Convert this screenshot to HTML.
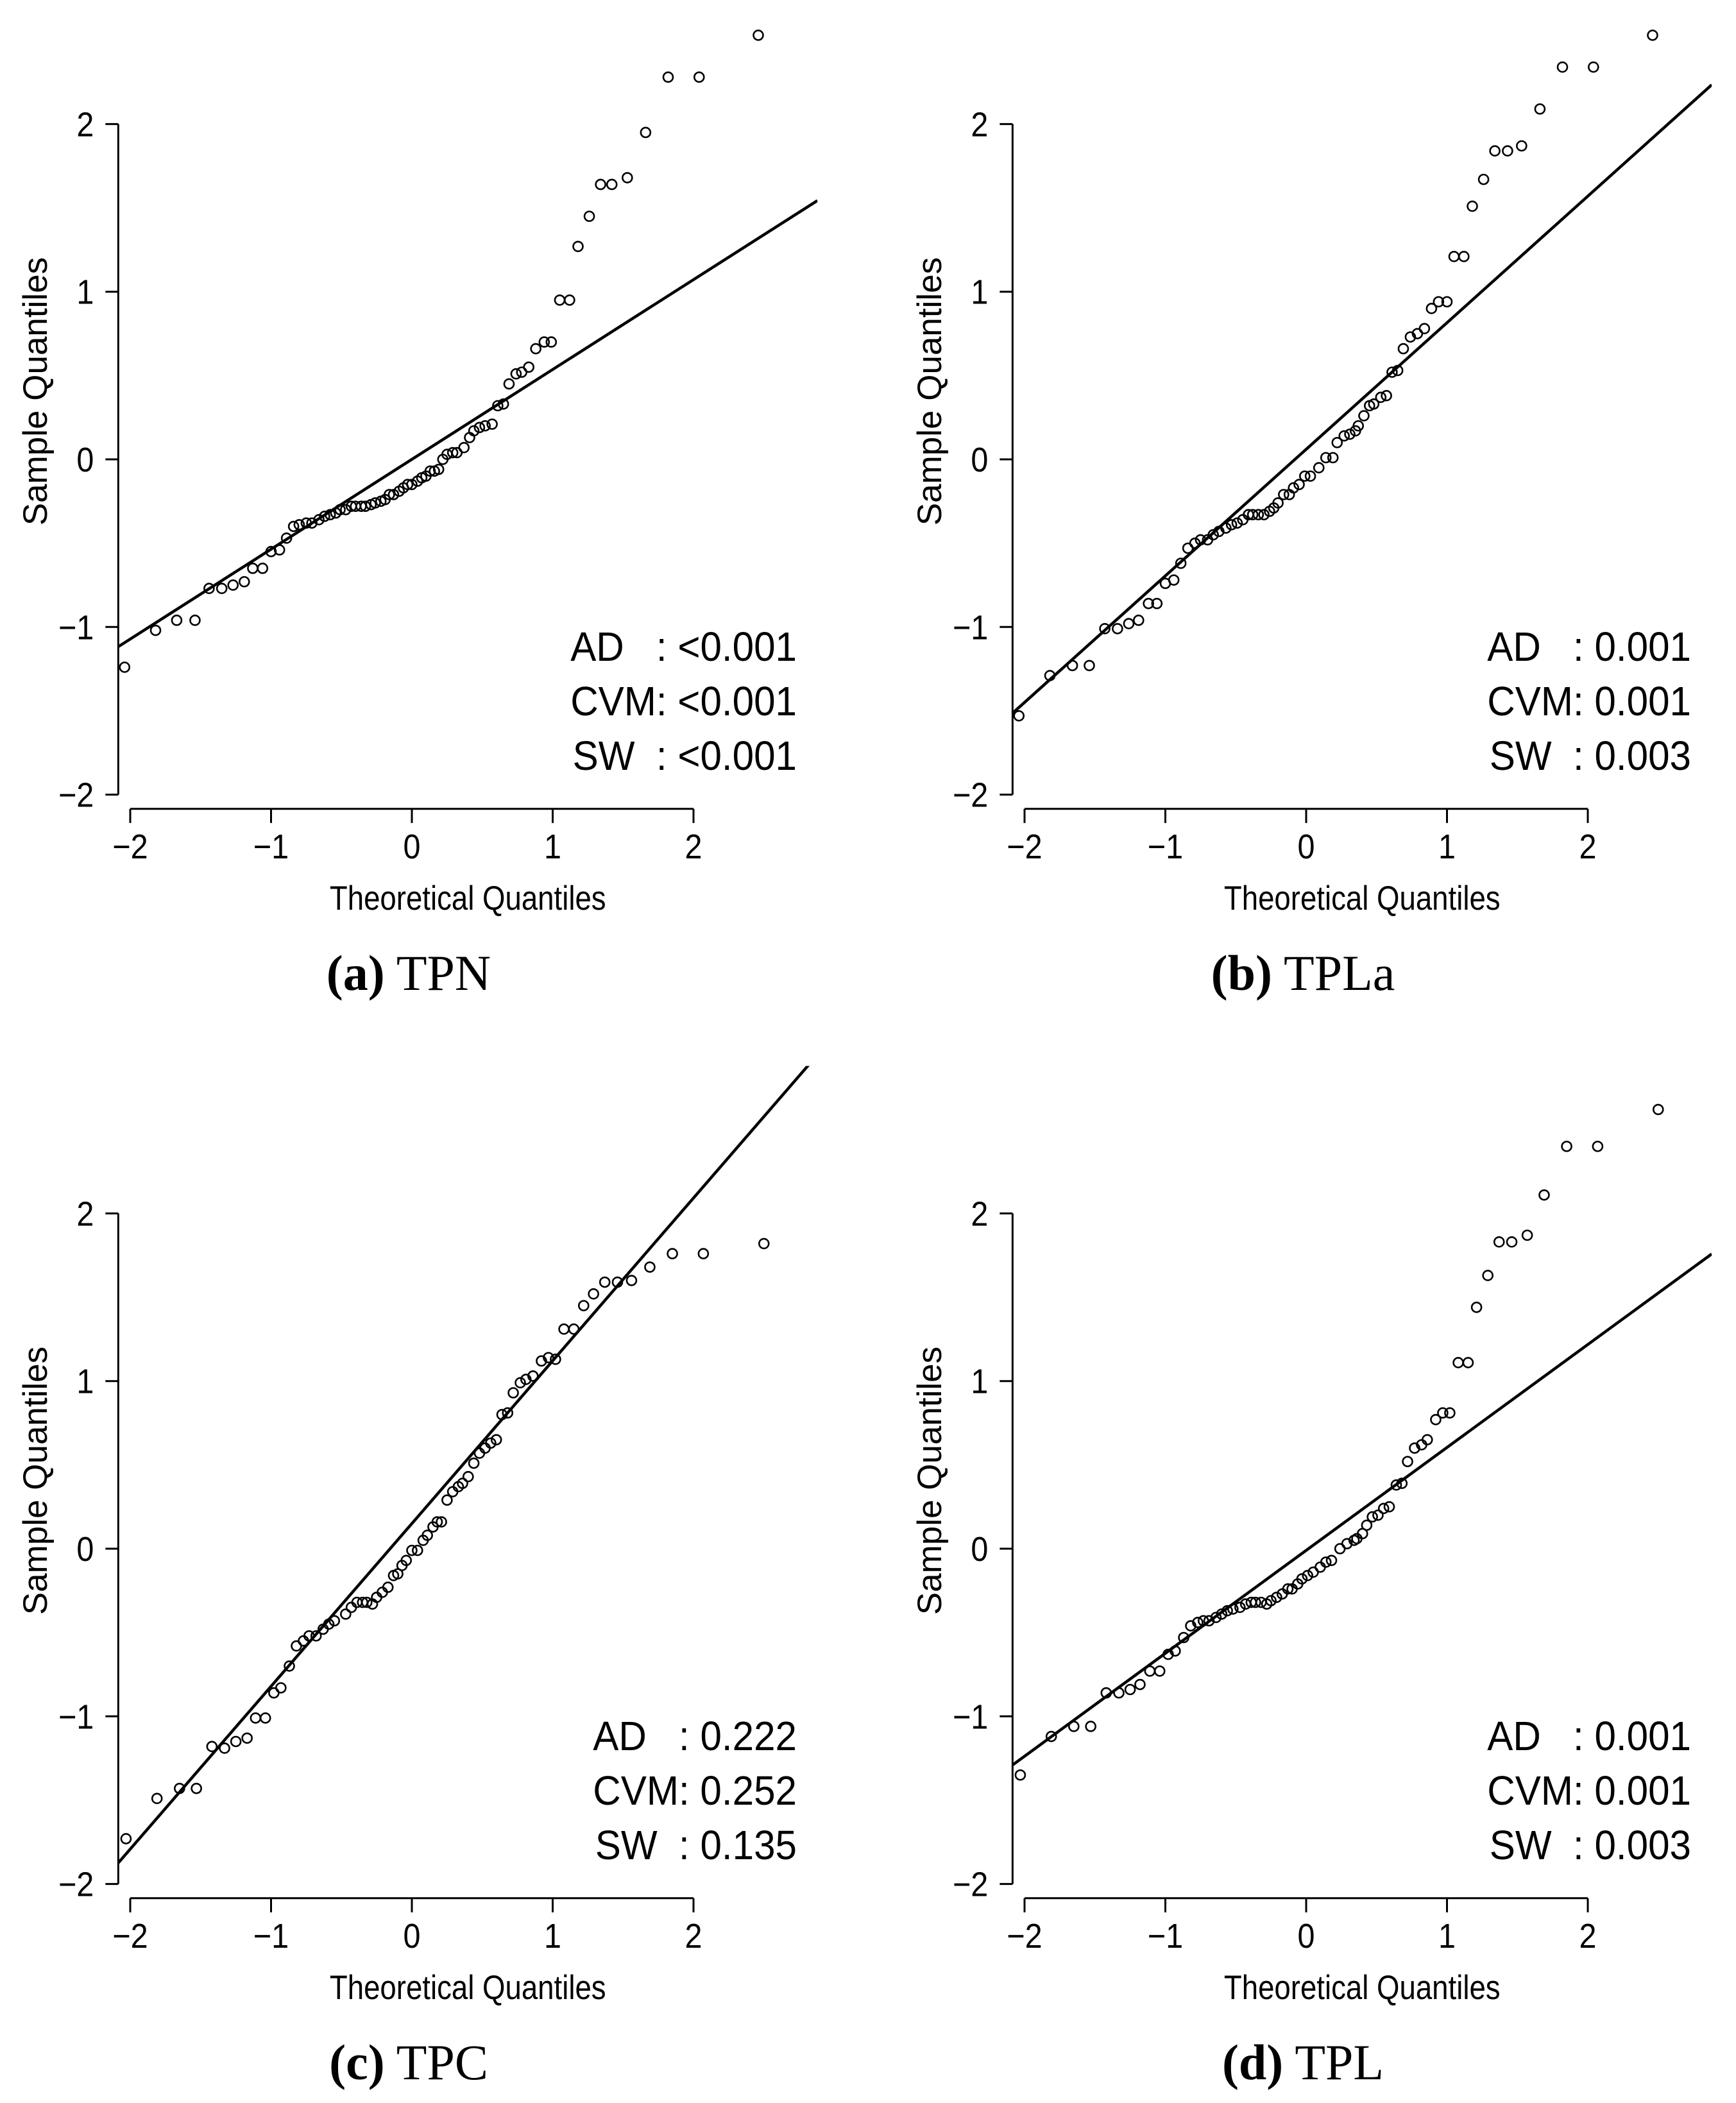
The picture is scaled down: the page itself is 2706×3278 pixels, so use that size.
<!DOCTYPE html>
<html><head><meta charset="utf-8"><title>QQ plots</title>
<style>
html,body{margin:0;padding:0;background:#fff;}
svg{display:block;}
text{font-family:"Liberation Sans",Arial,sans-serif;fill:#000;}
.cap{font-family:"Liberation Serif","DejaVu Serif",serif;}
</style></head>
<body>
<svg id="fig" width="2706" height="3278" viewBox="0 0 2706 3278" xmlns="http://www.w3.org/2000/svg"></svg>
<script>
// ---- data ----
const xTicks = [-2, -1, 0, 1, 2];
const yTicks = [-2, -1, 0, 1, 2];
const panelKeys = ["a", "b", "c", "d"];
const panelNames = ["TPN", "TPLa", "TPC", "TPL"];
const adValues = ["<0.001", "0.001", "0.222", "0.001"];
const cvmValues = ["<0.001", "0.001", "0.252", "0.001"];
const swValues = ["<0.001", "0.003", "0.135", "0.003"];
const lineSlope = [0.536, 0.755, 0.971, 0.614];
const lineIntercept = [0.0, 0.06, 0.15, -0.01];

const aX = [-2.04,-1.82,-1.67,-1.54,-1.44,-1.35,-1.27,-1.19,-1.13,-1.06,-1.00,-0.94,-0.89,-0.84,-0.80,-0.75,-0.71,-0.66,-0.62,-0.58,-0.54,-0.51,-0.47,-0.43,-0.40,-0.36,-0.33,-0.29,-0.26,-0.22,-0.19,-0.16,-0.13,-0.09,-0.06,-0.03,0.00,0.04,0.07,0.10,0.13,0.16,0.19,0.22,0.25,0.29,0.32,0.37,0.41,0.44,0.48,0.52,0.57,0.61,0.65,0.69,0.74,0.78,0.83,0.88,0.94,0.99,1.05,1.12,1.18,1.26,1.34,1.42,1.53,1.66,1.82,2.04,2.46];
const aY = [-1.24,-1.02,-0.96,-0.96,-0.77,-0.77,-0.75,-0.73,-0.65,-0.65,-0.55,-0.54,-0.47,-0.40,-0.39,-0.38,-0.38,-0.36,-0.34,-0.33,-0.32,-0.30,-0.30,-0.28,-0.28,-0.28,-0.28,-0.27,-0.26,-0.25,-0.24,-0.21,-0.21,-0.19,-0.17,-0.15,-0.15,-0.13,-0.11,-0.10,-0.07,-0.07,-0.06,0.00,0.03,0.04,0.04,0.07,0.13,0.17,0.19,0.20,0.21,0.32,0.33,0.45,0.51,0.52,0.55,0.66,0.70,0.70,0.95,0.95,1.27,1.45,1.64,1.64,1.68,1.95,2.28,2.28,2.53];
const bX = [-2.04,-1.82,-1.66,-1.54,-1.43,-1.34,-1.26,-1.19,-1.12,-1.06,-1.00,-0.94,-0.89,-0.84,-0.79,-0.75,-0.70,-0.66,-0.62,-0.57,-0.53,-0.49,-0.45,-0.41,-0.38,-0.34,-0.30,-0.26,-0.23,-0.20,-0.16,-0.12,-0.09,-0.05,-0.01,0.03,0.09,0.14,0.19,0.22,0.27,0.31,0.35,0.37,0.41,0.45,0.48,0.53,0.57,0.61,0.65,0.69,0.74,0.79,0.84,0.89,0.94,1.00,1.05,1.12,1.18,1.26,1.34,1.43,1.53,1.66,1.82,2.04,2.46];
const bY = [-1.53,-1.29,-1.23,-1.23,-1.01,-1.01,-0.98,-0.96,-0.86,-0.86,-0.74,-0.72,-0.62,-0.53,-0.50,-0.48,-0.48,-0.45,-0.43,-0.41,-0.39,-0.38,-0.36,-0.33,-0.33,-0.33,-0.33,-0.31,-0.29,-0.26,-0.21,-0.21,-0.17,-0.15,-0.10,-0.10,-0.05,0.01,0.01,0.10,0.14,0.15,0.17,0.20,0.26,0.32,0.33,0.37,0.38,0.52,0.53,0.66,0.73,0.75,0.78,0.90,0.94,0.94,1.21,1.21,1.51,1.67,1.84,1.84,1.87,2.09,2.34,2.34,2.53];
const cX = [-2.03,-1.81,-1.65,-1.53,-1.42,-1.33,-1.25,-1.17,-1.11,-1.04,-0.98,-0.93,-0.87,-0.82,-0.77,-0.73,-0.68,-0.63,-0.59,-0.55,-0.47,-0.43,-0.39,-0.35,-0.32,-0.28,-0.25,-0.21,-0.17,-0.13,-0.10,-0.07,-0.04,0.00,0.04,0.08,0.11,0.15,0.18,0.21,0.25,0.29,0.33,0.36,0.40,0.44,0.48,0.52,0.56,0.60,0.64,0.68,0.72,0.77,0.81,0.86,0.92,0.97,1.02,1.08,1.15,1.22,1.29,1.37,1.46,1.56,1.69,1.85,2.07,2.50];
const cY = [-1.73,-1.49,-1.43,-1.43,-1.18,-1.19,-1.15,-1.13,-1.01,-1.01,-0.86,-0.83,-0.70,-0.58,-0.55,-0.52,-0.52,-0.48,-0.45,-0.43,-0.39,-0.35,-0.32,-0.32,-0.32,-0.33,-0.29,-0.26,-0.23,-0.16,-0.15,-0.10,-0.07,-0.01,-0.01,0.05,0.08,0.13,0.16,0.16,0.29,0.34,0.37,0.39,0.43,0.51,0.57,0.60,0.63,0.65,0.80,0.81,0.93,0.99,1.01,1.03,1.12,1.14,1.13,1.31,1.31,1.45,1.52,1.59,1.59,1.60,1.68,1.76,1.76,1.82];
const dX = [-2.03,-1.81,-1.65,-1.53,-1.42,-1.33,-1.25,-1.18,-1.11,-1.04,-0.98,-0.93,-0.87,-0.82,-0.77,-0.73,-0.69,-0.64,-0.60,-0.56,-0.52,-0.47,-0.43,-0.39,-0.36,-0.32,-0.28,-0.25,-0.21,-0.17,-0.13,-0.10,-0.06,-0.03,0.01,0.05,0.10,0.14,0.18,0.24,0.29,0.34,0.36,0.40,0.43,0.47,0.51,0.55,0.59,0.64,0.68,0.72,0.77,0.82,0.86,0.92,0.97,1.02,1.08,1.15,1.21,1.29,1.37,1.46,1.57,1.69,1.85,2.07,2.50];
const dY = [-1.35,-1.12,-1.06,-1.06,-0.86,-0.86,-0.84,-0.81,-0.73,-0.73,-0.63,-0.61,-0.53,-0.46,-0.44,-0.43,-0.43,-0.41,-0.39,-0.37,-0.36,-0.35,-0.33,-0.32,-0.32,-0.32,-0.33,-0.31,-0.29,-0.27,-0.24,-0.24,-0.21,-0.18,-0.16,-0.14,-0.11,-0.08,-0.07,0.00,0.03,0.05,0.06,0.09,0.14,0.19,0.20,0.24,0.25,0.38,0.39,0.52,0.60,0.62,0.65,0.77,0.81,0.81,1.11,1.11,1.44,1.63,1.83,1.83,1.87,2.11,2.40,2.40,2.62];
const seriesX = [aX, bX, cX, dX];
const seriesY = [aY, bY, cY, dY];

// ---- layout (not data) ----
const NS = "http://www.w3.org/2000/svg";
const svg = document.getElementById("fig");
const colOff = [0, 1394, 0, 1394];
const rowOff = [0, 0, 1698, 1698];
const UX = 219.5, UY = 261.3, X0 = 203 + 2 * UX, Y0 = 716;
const LO = -2.085, HI = 2.88;

function mk(tag, attrs, parent) {
  const e = document.createElementNS(NS, tag);
  for (const k in attrs) e.setAttribute(k, attrs[k]);
  parent.appendChild(e);
  return e;
}
function fmt(v) { return v < 0 ? "\u2212" + Math.abs(v) : String(v); }
function squeeze(t, f) {
  const w = t.getComputedTextLength();
  if (w > 0) {
    t.setAttribute("textLength", (w * f).toFixed(1));
    t.setAttribute("lengthAdjust", "spacingAndGlyphs");
  }
}

const defs = mk("defs", {}, svg);

panelKeys.forEach((key, i) => {
  const ox = colOff[i], oy = rowOff[i];
  const sx = v => ox + X0 + v * UX;
  const sy = v => oy + Y0 - v * UY;

  const g = mk("g", {}, svg);
  
  

  const cp = mk("clipPath", { id: "clip-" + key }, defs);
  mk("rect", { x: sx(LO), y: sy(HI), width: sx(HI) - sx(LO), height: sy(LO) - sy(HI) }, cp);

  // x axis
  const xa = mk("g", {}, g);
  
  
  const axY = sy(LO);
  mk("line", { x1: sx(xTicks[0]), y1: axY, x2: sx(xTicks[xTicks.length - 1]), y2: axY, stroke: "#000", "stroke-width": 3 }, xa);
  xTicks.forEach(t => {
    const tk = mk("line", { x1: sx(t), y1: axY, x2: sx(t), y2: axY + 22, stroke: "#000", "stroke-width": 3 }, xa);
    
    
    const tl = mk("text", { x: sx(t), y: axY + 77, "text-anchor": "middle", "font-size": 54 }, xa);
    tl.textContent = fmt(t);
    
    
    squeeze(tl, 0.9);
  });
  const xt = mk("text", { x: (sx(LO) + sx(HI)) / 2, y: oy + 1418, "text-anchor": "middle", "font-size": 53 }, xa);
  xt.textContent = "Theoretical Quantiles";
  
  
  squeeze(xt, 0.86);

  // y axis
  const ya = mk("g", {}, g);
  
  
  const axX = sx(LO);
  mk("line", { x1: axX, y1: sy(yTicks[0]), x2: axX, y2: sy(yTicks[yTicks.length - 1]), stroke: "#000", "stroke-width": 3 }, ya);
  yTicks.forEach(t => {
    const tk = mk("line", { x1: axX - 20, y1: sy(t), x2: axX, y2: sy(t), stroke: "#000", "stroke-width": 3 }, ya);
    
    
    const tl = mk("text", { x: axX - 38, y: sy(t) + 19, "text-anchor": "end", "font-size": 54 }, ya);
    tl.textContent = fmt(t);
    
    
    squeeze(tl, 0.9);
  });
  const ytx = ox + 73, yty = oy + 610;
  const yt = mk("text", { x: ytx, y: yty, "text-anchor": "middle", "font-size": 53, transform: `rotate(-90 ${ytx} ${yty})` }, ya);
  yt.textContent = "Sample Quantiles";
  
  

  // reference line
  const x1 = LO, x2 = HI;
  const ln = mk("line", {
    x1: sx(x1), y1: sy(lineIntercept[i] + lineSlope[i] * x1),
    x2: sx(x2), y2: sy(lineIntercept[i] + lineSlope[i] * x2),
    stroke: "#000", "stroke-width": 4.5, "clip-path": `url(#clip-${key})`
  }, g);
  
  

  // points
  const pts = mk("g", {}, g);
  
  
  seriesX[i].forEach((xv, j) => {
    const c = mk("circle", { cx: sx(xv), cy: sy(seriesY[i][j]), r: 7.5, fill: "none", stroke: "#000", "stroke-width": 2.6 }, pts);
    
    
  });

  // stats
  const st = mk("g", {}, g);
  
  
  const lines = ["AD\u00a0\u00a0\u00a0: " + adValues[i], "CVM: " + cvmValues[i], "SW\u00a0\u00a0: " + swValues[i]];
  const names = ['ad-pvalue', 'cvm-pvalue', 'sw-pvalue'];
  lines.forEach((s, k) => {
    const t = mk("text", { x: ox + 1242, y: oy + 1030 + k * 85, "text-anchor": "end", "font-size": 64 }, st);
    t.textContent = s;
    
    
    squeeze(t, 0.94);
  });

  // caption
  const cap = mk("text", { x: ox + 637, y: oy + 1543, "text-anchor": "middle", "font-size": 78, class: "cap" }, g);
  
  
  const b = mk("tspan", { "font-weight": "bold" }, cap);
  b.textContent = "(" + key + ")";
  const n = mk("tspan", {}, cap);
  n.textContent = " " + panelNames[i];
});
</script>
</body></html>
